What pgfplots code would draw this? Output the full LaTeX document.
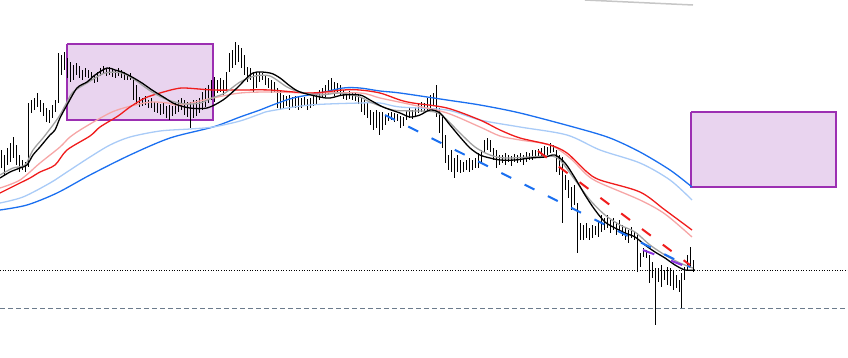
\documentclass[border=0pt]{standalone}
\usepackage{pgfplots}
\usepackage{pgfplotstable}
\pgfplotsset{compat=1.18}
\definecolor{mablue}{HTML}{1A6FF0}
\definecolor{malblue}{HTML}{A9CBF7}
\definecolor{mared}{HTML}{F01C1C}
\definecolor{mapink}{HTML}{F6A6A6}
\definecolor{magray}{HTML}{A3A3A3}
\definecolor{boxedge}{HTML}{9C2FB2}
\definecolor{boxfill}{HTML}{E9D4EF}
\definecolor{violetline}{HTML}{8E35E0}
\definecolor{slate}{HTML}{6B7B8C}

\pgfplotstableread{
x t b
1 150 168
4 155 175
7 148 165
10 143 162
13 137 158
16 145 165
19 155 172
22 160 170
25 162 172
28 103 167
31 100 113
34 98 110
37 93 107
40 100 112
43 103 116
46 108 122
49 110 123
52 105 118
55 100 112
58 53 103
61 55 75
64 52 70
67 58 78
70 62 82
73 65 80
76 63 75
79 66 78
82 70 80
85 68 77
88 70 78
91 72 80
94 75 83
97 72 82
100 68 76
103 66 74
106 68 76
109 67 75
112 69 77
115 70 78
118 68 76
121 70 78
124 72 80
127 74 80
130 73 80
133 78 100
136 85 105
139 97 107
142 98 106
145 96 105
148 100 108
151 98 108
154 102 112
157 103 113
160 104 115
163 103 114
166 106 118
169 105 120
172 106 116
175 103 114
178 100 112
181 98 110
184 100 115
187 102 117
190 102 128
193 100 118
196 100 116
199 98 113
202 92 110
205 88 107
208 85 103
211 80 100
214 77 102
217 80 93
220 78 92
223 80 95
226 72 90
229 53 72
232 50 68
235 42 65
238 45 62
241 48 68
244 55 75
247 67 82
250 68 80
253 72 93
256 73 88
259 72 82
262 73 80
265 75 85
268 78 88
271 80 93
274 82 92
277 88 108
280 90 110
283 95 108
286 96 106
289 95 110
292 97 107
295 96 108
298 97 110
301 98 108
304 97 106
307 99 110
310 98 108
313 96 106
316 95 104
319 90 100
322 88 98
325 85 97
328 80 95
331 78 92
334 82 96
337 83 94
340 85 95
343 90 99
346 92 100
349 91 99
352 92 100
355 93 101
358 94 104
361 97 112
364 100 115
367 103 118
370 110 125
373 112 130
376 110 128
379 112 135
382 112 130
385 115 125
388 113 121
391 112 120
394 113 122
397 114 121
400 116 128
403 117 126
406 110 120
409 108 118
412 110 119
415 108 116
418 104 113
421 102 112
424 103 111
427 98 110
430 95 108
433 93 106
436 85 117
439 108 133
442 115 148
445 135 163
448 155 170
451 150 172
454 158 178
457 155 172
460 160 173
463 162 172
466 160 170
469 158 172
472 160 170
475 158 168
478 153 168
481 150 162
484 140 153
487 138 150
490 140 152
493 148 160
496 150 168
499 155 165
502 155 163
505 153 165
508 155 162
511 156 166
514 154 162
517 155 163
520 153 162
523 155 165
526 152 162
529 153 160
532 150 160
535 150 158
538 149 157
541 148 158
544 146 156
547 147 155
550 143 153
553 145 152
556 150 172
559 155 175
562 157 223
565 175 190
568 180 198
571 187 210
574 185 205
577 203 253
580 223 240
583 225 240
586 223 238
589 228 240
592 225 238
595 226 235
598 222 237
601 215 232
604 218 230
607 215 228
610 220 233
613 218 230
616 222 235
619 220 232
622 225 236
625 228 240
628 230 243
631 227 238
634 232 240
637 233 272
640 253 267
643 248 257
646 250 258
649 255 283
652 262 278
655 268 325
658 268 282
661 265 287
664 270 280
667 267 285
670 268 286
673 270 290
676 275 288
679 280 292
681 273 308
684 267 280
687 255 270
690 247 268
693 260 272
}\bars

\begin{document}
\begin{tikzpicture}
\begin{axis}[
  width=848pt, height=357pt, scale only axis,
  xmin=0, xmax=848, ymin=0, ymax=357, y dir=reverse,
  axis lines=none, ticks=none, clip=true,
]
% invisible frame to fix the bounding box
\addplot[draw=none, forget plot] coordinates {(0,0) (848,357)};

% rectangles
\addplot[draw=boxedge, line width=2pt, fill=boxfill] coordinates {(67,44) (213,44) (213,120) (67,120) (67,44)};
\addplot[draw=boxedge, line width=2pt, fill=boxfill] coordinates {(691,112) (836,112) (836,187) (691,187) (691,112)};

% horizontal levels
\addplot[black, line width=0.9pt, dash pattern=on 1pt off 1.6pt] coordinates {(0,270) (848,270)};
\addplot[slate, line width=1pt, dash pattern=on 5pt off 3pt] coordinates {(0,308) (848,308)};

% top-right gray line
\addplot[gray!45, line width=1.5pt] coordinates {(585,0) (693,5)};

% bars
\addplot[draw=none, mark=none,
  error bars/.cd, y dir=plus, y explicit, error mark=none,
  error bar style={draw=black, solid, line width=0.9pt}]
  table[x=x, y=t, y error plus expr=\thisrow{b}-\thisrow{t}] {\bars};

% moving averages
\addplot[mablue, line width=1.3pt, smooth] coordinates {
(0,210)(27,205)(57,193)(90,175)(130,155)(170,138)(213,127)(240,117)(260,110)(270,106)(293,98)(320,93)(343,88)(360,88)(380,91)(400,93)(447,100)(480,105)(520,113)(577,128)(610,138)(640,152)(670,170)(692,187)};
\addplot[malblue, line width=1.3pt, smooth] coordinates {
(0,203)(23,197)(50,183)(67,172)(90,157)(110,145)(130,137)(160,131)(190,129)(213,127)(240,121)(260,114)(270,111)(310,105)(360,103)(380,103)(400,107)(447,110)(480,120)(520,127)(567,135)(600,150)(640,163)(670,180)(692,200)};
\addplot[mapink, line width=1.3pt, smooth] coordinates {
(0,188)(20,180)(40,163)(60,147)(70,137)(85,127)(112,112)(135,105)(152,102)(168,103)(180,105)(213,98)(240,93)(270,92)(310,93)(360,93)(380,98)(413,105)(447,113)(480,127)(500,136)(520,140)(550,145)(570,158)(587,175)(600,183)(640,200)(665,214)(692,237)};
\addplot[mared, line width=1.3pt, smooth] coordinates {
(0,193)(20,183)(30,178)(40,172)(55,165)(67,150)(90,136)(100,127)(118,116)(130,107)(145,98)(160,93)(175,89)(185,88)(213,90)(240,90)(270,90)(310,93)(343,90)(360,90)(380,93)(400,100)(413,103)(447,108)(480,120)(500,130)(520,138)(550,145)(567,153)(587,172)(600,180)(640,192)(665,210)(692,230)};
\addplot[magray, line width=1.3pt, smooth] coordinates {
(0,175)(13,168)(25,165)(33,150)(43,138)(53,125)(60,115)(67,102)(73,92)(87,83)(105,73)(122,73)(135,80)(152,92)(168,100)(185,104)(200,103)(212,98)(225,93)(240,82)(255,76)(270,76)(287,87)(300,92)(320,95)(340,93)(360,97)(370,102)(393,110)(420,111)(435,112)(445,118)(460,133)(475,147)(490,155)(505,158)(530,157)(550,156)(560,160)(575,180)(590,200)(605,215)(620,225)(635,232)(650,245)(665,255)(680,263)(693,268)};
\addplot[black, line width=1.3pt, smooth] coordinates {
(0,178)(10,172)(20,168)(27,165)(33,155)(40,147)(50,135)(55,130)(60,118)(67,105)(77,88)(87,82)(95,75)(107,68)(115,70)(122,72)(132,77)(142,83)(152,90)(165,98)(175,104)(190,108)(207,108)(223,100)(237,88)(253,73)(270,73)(280,78)(290,86)(300,92)(320,97)(330,98)(343,95)(360,95)(370,100)(383,107)(400,113)(410,117)(420,115)(430,110)(440,113)(450,125)(460,137)(470,148)(480,155)(490,158)(500,160)(515,160)(530,158)(545,157)(555,155)(565,163)(575,178)(585,195)(595,210)(605,222)(615,228)(625,233)(635,237)(645,245)(655,252)(665,258)(675,265)(685,270)(695,270)};

% dashed trend lines
\addplot[mablue, line width=2pt, dash pattern=on 11pt off 15pt] coordinates {(385,115) (690,267)};
\addplot[mared, line width=2pt, dash pattern=on 11pt off 15pt] coordinates {(538,151) (690,265)};
\addplot[violetline, line width=2pt, dash pattern=on 12pt off 18pt] coordinates {(643,250) (690,268)};
\end{axis}
\end{tikzpicture}
\end{document}
